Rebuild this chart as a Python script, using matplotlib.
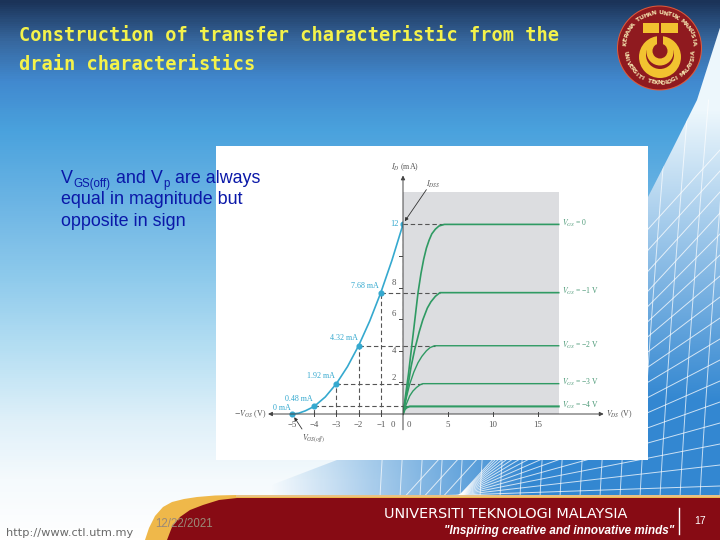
import numpy as np
import matplotlib
matplotlib.use('Agg')
import matplotlib.pyplot as plt
from matplotlib.patches import Circle, Rectangle, Polygon
from matplotlib.colors import LinearSegmentedColormap

# transfer curve (VGS, ID)
vgs_pts = [-5, -4, -3, -2, -1, 0]
id_pts = [0, 0.48, 1.92, 4.32, 7.68, 12]
id_labels = ['0 mA', '0.48 mA', '1.92 mA', '4.32 mA', '7.68 mA']
vgs_curve = [-5, -4.7, -4.4, -4, -3.5, -3, -2.5, -2, -1.5, -1, -0.5, 0]
id_curve = [0, 0.05, 0.2, 0.48, 1.08, 1.92, 3.0, 4.32, 5.88, 7.68, 9.72, 12]
vgs_ticks = [-5, -4, -3, -2, -1]

# drain curves (VDS, ID)
vds_0 = [0, 0.6, 1.2, 1.67, 2.0, 2.3, 2.6, 2.9, 3.2, 3.6, 4.0, 4.6, 17.3]
id_0 = [0, 2.5, 5.4, 7.68, 8.9, 9.8, 10.5, 11.0, 11.4, 11.7, 11.9, 12, 12]
vds_1 = [0, 0.5, 0.9, 1.3, 1.8, 2.2, 2.7, 3.1, 3.6, 4.1, 17.3]
id_1 = [0, 1.6, 3.0, 4.08, 5.2, 5.96, 6.7, 7.1, 7.45, 7.68, 7.68]
vds_2 = [0, 0.4, 0.75, 1.2, 1.67, 2.1, 2.6, 3.0, 3.5, 17.3]
id_2 = [0, 1.1, 1.9, 2.65, 3.25, 3.65, 4.0, 4.2, 4.32, 4.32]
vds_3 = [0, 0.35, 0.75, 1.1, 1.5, 1.9, 2.2, 17.3]
id_3 = [0, 0.6, 1.15, 1.45, 1.68, 1.85, 1.92, 1.92]
vds_4 = [0, 0.2, 0.45, 0.75, 17.3]
id_4 = [0, 0.3, 0.42, 0.48, 0.48]
vgs_names = ['$V_{GS}$ = 0', '$V_{GS}$ = \u22121 V', '$V_{GS}$ = \u22122 V', '$V_{GS}$ = \u22123 V', '$V_{GS}$ = \u22124 V']
vds_ticks = [5, 10, 15]
id_ticks = [2, 4, 6, 8]

BLUE = '#35a9cf'
GREEN = '#2f9a63'
LBL = '#555555'
SERIF = 'Liberation Serif'
NAVY = '#0a18a8'

fig = plt.figure(figsize=(7.2, 5.4), dpi=100)

# slide background in pixel coordinates
bg = fig.add_axes([0, 0, 1, 1])
bg.set_xlim(0, 720)
bg.set_ylim(540, 0)
bg.axis('off')
cmap = LinearSegmentedColormap.from_list('sl', [(0, '#1b3358'), (40 / 540, '#37689f'), (80 / 540, '#4189cf'),
                                                (130 / 540, '#4aa2dd'), (200 / 540, '#6bb4e4'), (280 / 540, '#90cbec'),
                                                (350 / 540, '#b6dff3'), (420 / 540, '#dff0f9'), (480 / 540, '#f5fafd'),
                                                (1, '#ffffff')])
yy, xx = np.mgrid[0:540, 0:720]
bg.imshow(yy / 540, cmap=cmap, extent=[0, 720, 540, 0], aspect='auto', vmin=0, vmax=1)

# curved grid area at the right and along the bottom
edge = Polygon([[724, 15], [697, 100], [672, 150], [648, 197], [560, 340], [350, 455], [240, 497], [724, 497]],
               transform=bg.transData, fc='none', ec='none')
bg.add_patch(edge)
rgba = np.zeros((540, 720, 4))
ramp_y = np.clip((yy - 110) / 290, 0, 1)
rgba[..., 0] = (0.93 * (1 - ramp_y) + 0.2 * ramp_y)
rgba[..., 1] = (0.97 * (1 - ramp_y) + 0.53 * ramp_y)
rgba[..., 2] = (0.99 * (1 - ramp_y) + 0.82 * ramp_y)
rgba[..., 3] = np.clip((xx - 270) / 260, 0, 1)
im = bg.imshow(rgba, extent=[0, 720, 540, 0], aspect='auto')
im.set_clip_path(edge)
for y_right in np.arange(150, 497, 21):
    xs = np.linspace(380, 724, 40)
    s = np.clip((495 - y_right) / 260, 0.03, 1.1)
    ln, = bg.plot(xs, y_right + s * (720 - xs), color='white', lw=0.7, alpha=0.75)
    ln.set_clip_path(edge)
for x_start in np.arange(380, 740, 20):
    ys = np.linspace(100, 497, 60)
    ln, = bg.plot(x_start + 0.05 * (497 - ys) + 0.0011 * (497 - ys) ** 1.5, ys, color='white', lw=0.7, alpha=0.7)
    ln.set_clip_path(edge)

# footer band
gold_x = [145, 149, 155, 163, 172, 184, 197, 215, 237, 720, 720]
gold_y = [540, 528, 516, 507, 502, 499, 497, 495.5, 495, 495, 540]
red_x = [167, 172, 180, 190, 203, 219, 237, 720, 720]
red_y = [540, 527, 517, 510, 505, 500, 498, 498, 540]
bg.add_patch(Polygon(list(zip(gold_x, gold_y)), fc='#efb84a', lw=0))
bg.add_patch(Polygon(list(zip(red_x, red_y)), fc='#870b14', lw=0))
bg.plot([237, 720], [495.6, 495.6], color='#e8c288', lw=1.4)
bg.plot([678.5, 678.5], [508, 534], color='white', lw=1)

bg.text(19, 41, 'Construction of transfer characteristic from the', fontsize=13.4, family='DejaVu Sans Mono',
        fontweight='bold', color='#f4f24a', va='baseline')
bg.text(19, 70, 'drain characteristics', fontsize=13.4, family='DejaVu Sans Mono',
        fontweight='bold', color='#f4f24a', va='baseline')

bg.text(6, 536, 'http://www.ctl.utm.my', fontsize=8.2, color='#6a6a6a', family='DejaVu Sans')
bg.text(155, 527, '12/22/2021', fontsize=8.3, color='#9a8a78', family='Liberation Sans')
bg.text(384, 518, 'UNIVERSITI TEKNOLOGI MALAYSIA', fontsize=10.4, color='white', family='DejaVu Sans')
bg.text(674, 534, '"Inspiring creative and innovative minds"', fontsize=8.4, color='white',
        family='Liberation Sans', fontstyle='italic', fontweight='bold', ha='right')
bg.text(700, 524, '17', fontsize=7.5, color='white', ha='center', family='Liberation Sans')

# logo
LOGO_RED = '#8f1a1f'
LOGO_YEL = '#f2c230'
bg.add_patch(Circle((659.5, 48), 42.5, fc='#e05a3a', lw=0))
bg.add_patch(Circle((659.5, 48), 41.5, fc=LOGO_RED, lw=0))
bg.add_patch(Circle((660, 57), 21, fc=LOGO_YEL, lw=0))
bg.add_patch(Circle((660, 55), 14, fc=LOGO_RED, lw=0))
bg.add_patch(Circle((660, 52), 13.5, fc=LOGO_YEL, lw=0))
bg.add_patch(Rectangle((643, 23), 16, 10, fc=LOGO_YEL, lw=0))
bg.add_patch(Rectangle((661, 23), 17, 10, fc=LOGO_YEL, lw=0))
bg.add_patch(Rectangle((657, 33), 6, 14, fc=LOGO_RED, lw=0))
bg.add_patch(Circle((660, 51), 7.5, fc=LOGO_RED, lw=0))
top_txt = 'KERANA TUHAN UNTUK MANUSIA'
for i, ch in enumerate(top_txt):
    a = np.radians(172 - 164 * i / (len(top_txt) - 1))
    bg.text(659.5 + 35 * np.cos(a), 48 - 35 * np.sin(a), ch, fontsize=4.4, color='#f5e6b0', fontweight='bold',
            rotation=np.degrees(a) - 90, ha='center', va='center', rotation_mode='anchor')
bot_txt = 'UNIVERSITI TEKNOLOGI MALAYSIA'
for i, ch in enumerate(bot_txt):
    a = np.radians(188 + 164 * i / (len(bot_txt) - 1))
    bg.text(659.5 + 35 * np.cos(a), 48 - 35 * np.sin(a), ch, fontsize=4.2, color='#f5e6b0', fontweight='bold',
            rotation=np.degrees(a) + 90, ha='center', va='center', rotation_mode='anchor')

# white panel holding the figure
bg.add_patch(Rectangle((216, 146), 432, 314, fc='white', lw=0, zorder=5))

# chart axes: left half VGS, right half VDS, shared ID scale
y0 = (414 - 460) / 15.8
y1 = (414 - 146) / 15.8
axl = fig.add_axes([216 / 720, 80 / 540, 187 / 720, 314 / 540])
axl.set_xlim((216 - 403) / 22.2, 0)
axl.set_ylim(y0, y1)
axl.axis('off')
axr = fig.add_axes([403 / 720, 80 / 540, 245 / 720, 314 / 540])
axr.set_xlim(0, 245 / 9.0)
axr.set_ylim(y0, y1)
axr.axis('off')

axr.add_patch(Rectangle((0, 0), 17.3, 14.05, fc='#dcdde0', lw=0))

# dashed projection lines
DASH = (0, (4, 2.5))
for v, i in zip(vgs_pts[1:], id_pts[1:]):
    axl.plot([v, v], [0, i], color='#555555', lw=0.8, ls=DASH)
    axl.plot([v, 0], [i, i], color='#555555', lw=0.8, ls=DASH)
kneex = [vds_0[-2], vds_1[-2], vds_2[-2], vds_3[-2], vds_4[-2]]
for k, i in zip(kneex, id_pts[::-1]):
    axr.plot([0, k], [i, i], color='#555555', lw=0.8, ls=DASH)

# axes lines
arrow = dict(arrowstyle='-|>', color='#444444', lw=0.7, mutation_scale=6, shrinkA=0, shrinkB=0)
axl.annotate('', xy=(-6.08, 0), xytext=(0, 0), arrowprops=arrow)
axr.annotate('', xy=(22.3, 0), xytext=(0, 0), arrowprops=arrow)
axr.annotate('', xy=(0, 15.1), xytext=(0, -1), arrowprops=arrow)
for v in vgs_ticks:
    axl.plot([v, v], [-0.15, 0.15], color='#444444', lw=0.7)
    axl.text(v, -0.72, '\u2212%d' % -v, fontsize=6.3, family=SERIF, color=LBL, ha='center', va='center')
for v in vds_ticks:
    axr.plot([v, v], [-0.15, 0.15], color='#444444', lw=0.7)
    axr.text(v, -0.72, str(v), fontsize=6.3, family=SERIF, color=LBL, ha='center', va='center')
axl.text(-0.45, -0.72, '0', fontsize=6.3, family=SERIF, color=LBL, ha='center', va='center')
axr.text(0.7, -0.72, '0', fontsize=6.3, family=SERIF, color=LBL, ha='center', va='center')
for i in id_ticks + [10]:
    axl.plot([-0.2, 0], [i, i], color='#444444', lw=0.7)
for i in id_ticks:
    axl.text(-0.42, i + 0.3 if i != 4 else i, str(i), fontsize=6.3, family=SERIF, color=LBL, ha='center', va='center')

# transfer curve
axl.plot(vgs_curve, id_curve, color=BLUE, lw=1.2)
axl.plot(vgs_pts, id_pts, 'o', color=BLUE, ms=3.4, clip_on=False)
axl.text(-0.2, 12, '12', fontsize=6, family=SERIF, color=BLUE, ha='right', va='center')
lab_off = [(-5.05, 0.38), (-4.05, 0.95), (-3.05, 2.4), (-2.05, 4.8), (-1.1, 8.1)]
for (lx, ly), s in zip(lab_off, id_labels):
    axl.text(lx, ly, s, fontsize=5.8, family=SERIF, color=BLUE, ha='right', va='center')

# drain curves
for xs, ys, w in [(vds_0, id_0, 1.2), (vds_1, id_1, 1.2), (vds_2, id_2, 1.0), (vds_3, id_3, 1.0), (vds_4, id_4, 1.5)]:
    axr.plot(xs, ys, color=GREEN, lw=w)
for s, i in zip(vgs_names, id_pts[::-1]):
    axr.text(17.7, i + 0.05, s, fontsize=5.5, family=SERIF, math_fontfamily='stix', color='#4d9a78', va='center')

# axis names and callouts
axl.text(-6.17, 0, '$-V_{GS}$ (V)', fontsize=5.8, family=SERIF, math_fontfamily='stix', color=LBL, ha='right', va='center')
axr.text(22.6, 0, '$V_{DS}$ (V)', fontsize=5.8, family=SERIF, math_fontfamily='stix', color=LBL, va='center')
axr.text(0.2, 15.65, '$I_D$ (mA)', fontsize=5.8, family=SERIF, math_fontfamily='stix', color=LBL, ha='center', va='center')
axr.text(2.55, 14.5, '$I_{DSS}$', fontsize=5.8, family=SERIF, math_fontfamily='stix', color=LBL, va='center')
thin = dict(arrowstyle='-|>', color='#333333', lw=0.6, mutation_scale=5, shrinkA=0, shrinkB=0)
axr.annotate('', xy=(0.2, 12.2), xytext=(2.6, 14.2), arrowprops=thin)
axl.text(-4.05, -1.58, '$V_{GS(off)}$', fontsize=5.8, family=SERIF, math_fontfamily='stix', color=LBL, ha='center', va='center')
axl.annotate('', xy=(-4.9, -0.2), xytext=(-4.55, -0.95), arrowprops=thin)

# body text sits above the panel
top = fig.add_axes([0, 0, 1, 1])
top.set_xlim(0, 720)
top.set_ylim(540, 0)
top.axis('off')
top.patch.set_alpha(0)
BODY = dict(fontsize=12.9, family='Liberation Sans', color=NAVY, va='baseline')
top.text(61, 183, 'V', **BODY)
top.text(73, 187, 'GS(off)', fontsize=8.3, family='Liberation Sans', color=NAVY, va='baseline')
top.text(116, 183, 'and V', **BODY)
top.text(163, 187, 'p', fontsize=8.3, family='Liberation Sans', color=NAVY, va='baseline')
top.text(175, 183, 'are always', **BODY)
top.text(61, 204, 'equal in magnitude but', **BODY)
top.text(61, 226, 'opposite in sign', **BODY)

fig.savefig('out.png', dpi=100)
